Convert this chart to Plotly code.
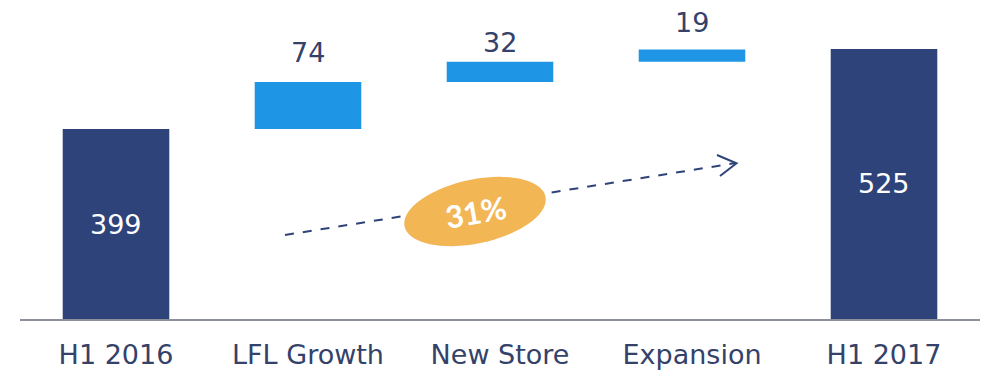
import math
import plotly.graph_objects as go

# Sales bridge, H1 2016 -> H1 2017
categories = ["H1 2016", "LFL Growth", "New Store", "Expansion", "H1 2017"]
measures = ["absolute", "relative", "relative", "relative", "absolute"]
values = [399, 74, 32, 19, 525]
growth_label = "31%"

NAVY = "#2E4379"
BLUE = "#1F95E5"
GOLD = "#F2B655"
TEXT = "#34426A"
FONT = "DejaVu Sans"
FONT_BADGE = "Lato"

W, H = 982, 372
ML, MR, MT, MB = 20, 2, 0, 53
Y_RANGE = [100, 602]

fig = go.Figure(
    go.Waterfall(
        x=categories,
        y=values,
        measure=measures,
        increasing=dict(marker=dict(color=BLUE)),
        totals=dict(marker=dict(color=NAVY)),
        decreasing=dict(marker=dict(color=BLUE)),
        connector=dict(visible=False),
        textinfo="none",
        hoverinfo="skip",
    )
)
fig.update_traces(selector=dict(type="waterfall"), width=0.555)

# value labels: totals centred inside the visible bar, steps above the floating bar
label_gap = [0, 12, 2, 10, 0]
annotations = []
running = 0
for i, (cat, m, v) in enumerate(zip(categories, measures, values)):
    if m == "absolute":
        running = v
        annotations.append(dict(
            x=cat, y=(Y_RANGE[0] + v) / 2, text=str(v), showarrow=False,
            font=dict(family=FONT, size=27, color="white"),
            xref="x", yref="y", yanchor="middle",
        ))
    else:
        running += v
        annotations.append(dict(
            x=cat, y=running, text=str(v), showarrow=False,
            font=dict(family=FONT, size=27, color=TEXT),
            xref="x", yref="y", yanchor="bottom", yshift=label_gap[i],
        ))

plot_w = W - ML - MR
plot_h = H - MT - MB


def px_to_paper(px, py):
    return (px - ML) / plot_w, (H - MB - py) / plot_h


shapes = []

# dashed growth arrow
x0, y0 = px_to_paper(285, 235)
x1, y1 = px_to_paper(736, 163)
shapes.append(dict(type="line", xref="paper", yref="paper", x0=x0, y0=y0, x1=x1, y1=y1,
                   line=dict(color=NAVY, width=2, dash="dash")))
# open arrow head
head = [(717, 155), (736.5, 163.3), (720, 176)]
pts = [px_to_paper(*p) for p in head]
path = "M {} {} L {} {} L {} {}".format(pts[0][0], pts[0][1], pts[1][0], pts[1][1], pts[2][0], pts[2][1])
shapes.append(dict(type="path", xref="paper", yref="paper", path=path,
                   line=dict(color=NAVY, width=2)))

# tilted ellipse badge behind the growth figure
cx, cy, a, b, tilt = 475, 211.5, 72, 32, math.radians(12)
ell = []
for k in range(73):
    t = 2 * math.pi * k / 72
    ex = a * math.cos(t)
    ey = b * math.sin(t)
    px = cx + ex * math.cos(tilt) + ey * math.sin(tilt)
    py = cy - ex * math.sin(tilt) + ey * math.cos(tilt)
    ell.append(px_to_paper(px, py))
ell_path = "M " + " L ".join("{:.5f} {:.5f}".format(p[0], p[1]) for p in ell) + " Z"
shapes.append(dict(type="path", xref="paper", yref="paper", path=ell_path,
                   fillcolor=GOLD, line=dict(width=0)))

gx, gy = px_to_paper(cx, cy)
annotations.append(dict(
    x=gx, y=gy, xref="paper", yref="paper", text="<b>" + growth_label + "</b>",
    showarrow=False, textangle=-10,
    font=dict(family=FONT_BADGE, size=31, color="white"),
))

fig.update_layout(
    width=W, height=H,
    margin=dict(l=ML, r=MR, t=MT, b=MB),
    paper_bgcolor="white", plot_bgcolor="white",
    showlegend=False,
    shapes=shapes,
    annotations=annotations,
    xaxis=dict(
        type="category", showgrid=False, zeroline=False,
        showline=True, linecolor="#8C8F9C", linewidth=2,
        ticks="", ticklabelstandoff=11,
        tickfont=dict(family=FONT, size=27, color=TEXT),
    ),
    yaxis=dict(range=Y_RANGE, visible=False, showgrid=False, zeroline=False),
)

fig.write_html("out.html")
